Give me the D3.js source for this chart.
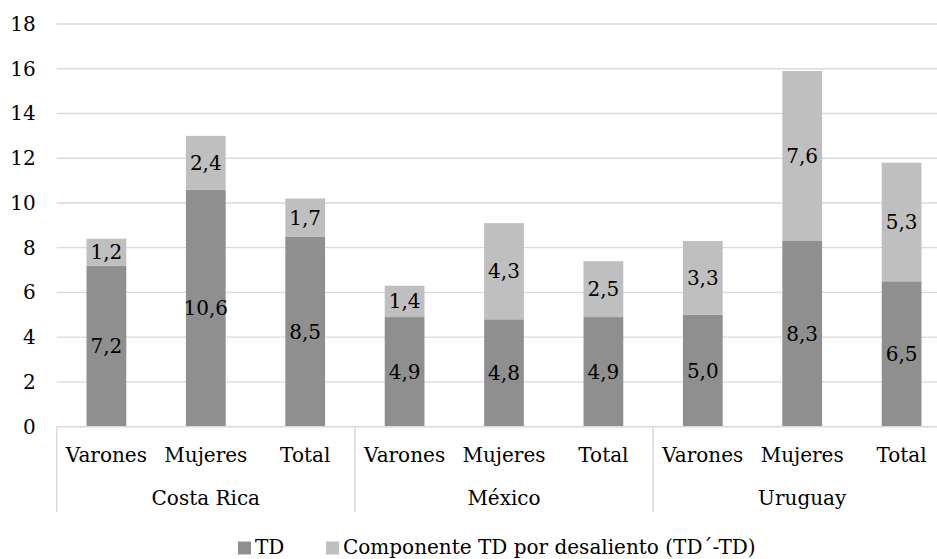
<!DOCTYPE html>
<html>
<head>
<meta charset="utf-8">
<script src="https://cdn.jsdelivr.net/npm/d3@7"></script>
<style>
  html, body { margin: 0; padding: 0; background: #fff; }
  svg { display: block; }
</style>
</head>
<body>
<svg id="chart" width="937" height="559"></svg>
<script>
// Tasa de desocupación (TD) y componente por desaliento, por país y sexo
const countries = ["Costa Rica", "México", "Uruguay"];
const groups = ["Varones", "Mujeres", "Total"];
const tdValues = [
  [7.2, 10.6, 8.5],
  [4.9, 4.8, 4.9],
  [5.0, 8.3, 6.5]
];
const desalientoValues = [
  [1.2, 2.4, 1.7],
  [1.4, 4.3, 2.5],
  [3.3, 7.6, 5.3]
];
const yTicks = [0, 2, 4, 6, 8, 10, 12, 14, 16, 18];
const seriesNames = ["TD", "Componente TD por desaliento (TD\u00B4-TD)"];
const seriesColors = ["#8f8f8f", "#bfbfbf"];

(function draw() {
  const svg = d3.select("#chart");
  const W = 937, H = 559;
  const plotLeft = 56.7, plotRight = 951.3, plotTop = 24, plotBottom = 426.7;
  const fontSize = 20;
  const serif = "DejaVu Serif";
  const gridColor = "#d9d9d9";
  const fmt = v => d3.format(".1f")(v).replace(".", ",");

  const y = d3.scaleLinear().domain([0, 18]).range([plotBottom, plotTop]);
  const xCountry = d3.scaleBand().domain(countries).range([plotLeft, plotRight]).padding(0);
  const xGroup = d3.scaleBand().domain(groups).range([0, xCountry.bandwidth()])
    .paddingInner(0.6).paddingOuter(0.3);

  svg.append("defs").append("clipPath").attr("id", "clip")
    .append("rect").attr("x", 0).attr("y", 0).attr("width", W).attr("height", H);

  const g = svg.append("g").attr("clip-path", "url(#clip)")
    .style("font-family", serif);

  const styleText = sel => sel
    .style("font-family", serif)
    .style("font-size", fontSize + "px")
    .attr("fill", "#000");

  // horizontal gridlines
  g.append("g").selectAll("line").data(yTicks.filter(t => t > 0)).join("line")
    .attr("x1", plotLeft).attr("x2", plotRight)
    .attr("y1", d => y(d)).attr("y2", d => y(d))
    .attr("stroke", gridColor).attr("stroke-width", 1.3);

  // y-axis tick labels
  const yAxis = d3.axisLeft(y).tickValues(yTicks).tickSize(0).tickPadding(21);
  const yAxisG = g.append("g").attr("transform", `translate(${plotLeft},0)`).call(yAxis);
  yAxisG.select(".domain").remove();
  yAxisG.selectAll("text").call(styleText);

  // stacked bars
  const rows = [];
  countries.forEach((c, ci) => {
    groups.forEach((gr, gi) => {
      const td = tdValues[ci][gi];
      const de = desalientoValues[ci][gi];
      rows.push({ country: c, group: gr, series: 0, y0: 0, y1: td, value: td });
      rows.push({ country: c, group: gr, series: 1, y0: td, y1: td + de, value: de });
    });
  });

  const bars = g.append("g");
  bars.selectAll("rect").data(rows).join("rect")
    .attr("x", d => xCountry(d.country) + xGroup(d.group))
    .attr("width", xGroup.bandwidth())
    .attr("y", d => y(d.y1))
    .attr("height", d => y(d.y0) - y(d.y1))
    .attr("fill", d => seriesColors[d.series]);

  bars.selectAll("text").data(rows).join("text")
    .attr("x", d => xCountry(d.country) + xGroup(d.group) + xGroup.bandwidth() / 2)
    .attr("y", d => (y(d.y0) + y(d.y1)) / 2)
    .attr("dy", "0.35em")
    .attr("text-anchor", "middle")
    .call(styleText)
    .text(d => fmt(d.value));

  // category axis line and group separators
  g.append("line")
    .attr("x1", plotLeft).attr("x2", plotRight).attr("y1", plotBottom).attr("y2", plotBottom)
    .attr("stroke", gridColor).attr("stroke-width", 1.5);

  const sepX = countries.map(c => xCountry(c)).concat([plotRight]);
  g.append("g").selectAll("line").data(sepX).join("line")
    .attr("x1", d => d).attr("x2", d => d)
    .attr("y1", plotBottom).attr("y2", 512)
    .attr("stroke", gridColor).attr("stroke-width", 1.5);

  // inner category labels
  const catLabels = [];
  countries.forEach(c => groups.forEach(gr => catLabels.push({ c, gr })));
  g.append("g").selectAll("text").data(catLabels).join("text")
    .attr("x", d => xCountry(d.c) + xGroup(d.gr) + xGroup.bandwidth() / 2)
    .attr("y", 462)
    .attr("text-anchor", "middle")
    .call(styleText)
    .text(d => d.gr);

  // country labels
  g.append("g").selectAll("text").data(countries).join("text")
    .attr("x", d => xCountry(d) + xCountry.bandwidth() / 2)
    .attr("y", 505)
    .attr("text-anchor", "middle")
    .call(styleText)
    .text(d => d);

  // legend
  const legendX = [238, 326];
  const legend = svg.append("g");
  seriesNames.forEach((name, i) => {
    legend.append("rect")
      .attr("x", legendX[i]).attr("y", 541.5)
      .attr("width", 13).attr("height", 13)
      .attr("fill", seriesColors[i]);
    legend.append("text")
      .attr("x", legendX[i] + 17).attr("y", 554)
      .call(styleText)
      .text(name);
  });
})();
</script>
</body>
</html>
